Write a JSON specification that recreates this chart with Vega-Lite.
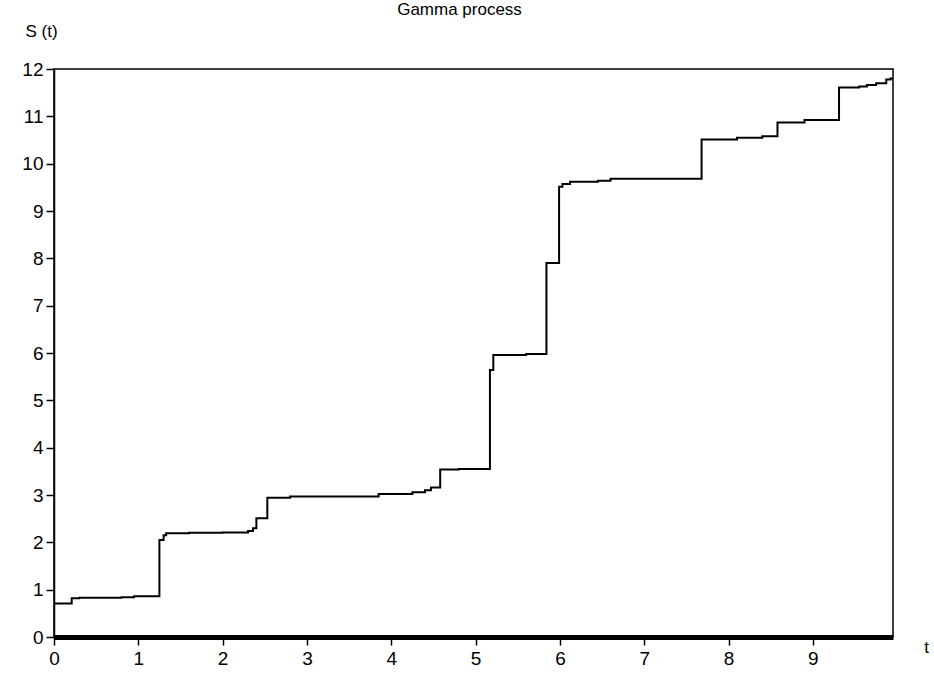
{
  "$schema": "https://vega.github.io/schema/vega-lite/v6.json",
  "autosize": {"type": "none"},
  "width": 839,
  "height": 568,
  "padding": {"left": 54, "top": 69, "right": 41, "bottom": 39},
  "background": "white",
  "title": {
    "text": "Gamma process",
    "anchor": "middle",
    "font": "Liberation Sans",
    "fontSize": 17,
    "fontWeight": "normal",
    "color": "black",
    "offset": 3,
    "dx": -14
  },
  "config": {
    "view": {"stroke": "black", "strokeWidth": 1.5},
    "axis": {
      "labelFont": "Liberation Sans",
      "labelFontSize": 19,
      "labelColor": "black",
      "domainColor": "black",
      "tickColor": "black",
      "grid": false,
      "titleFont": "Liberation Sans",
      "titleFontSize": 17,
      "titleFontWeight": "normal",
      "titleColor": "black"
    }
  },
  "data": {
    "values": [
      {"t": 0, "s": 0.71},
      {"t": 0.21, "s": 0.82},
      {"t": 0.3, "s": 0.83},
      {"t": 0.8, "s": 0.84},
      {"t": 0.95, "s": 0.86},
      {"t": 1.25, "s": 2.05},
      {"t": 1.3, "s": 2.15},
      {"t": 1.33, "s": 2.19},
      {"t": 1.6, "s": 2.2},
      {"t": 2.0, "s": 2.21},
      {"t": 2.3, "s": 2.24},
      {"t": 2.36, "s": 2.3},
      {"t": 2.4, "s": 2.51},
      {"t": 2.53, "s": 2.94},
      {"t": 2.8, "s": 2.97},
      {"t": 3.3, "s": 2.97},
      {"t": 3.85, "s": 3.02},
      {"t": 4.25, "s": 3.06},
      {"t": 4.4, "s": 3.1},
      {"t": 4.47, "s": 3.16},
      {"t": 4.58, "s": 3.54},
      {"t": 4.8, "s": 3.55},
      {"t": 5.17, "s": 5.64},
      {"t": 5.21, "s": 5.96},
      {"t": 5.6, "s": 5.98},
      {"t": 5.84, "s": 7.9},
      {"t": 5.99, "s": 9.51},
      {"t": 6.03, "s": 9.57},
      {"t": 6.12, "s": 9.62},
      {"t": 6.45, "s": 9.64},
      {"t": 6.6, "s": 9.68},
      {"t": 7.68, "s": 10.51},
      {"t": 8.1, "s": 10.55},
      {"t": 8.4, "s": 10.58},
      {"t": 8.58, "s": 10.87},
      {"t": 8.9, "s": 10.92},
      {"t": 9.31, "s": 11.61},
      {"t": 9.55, "s": 11.63},
      {"t": 9.64, "s": 11.66},
      {"t": 9.75, "s": 11.7},
      {"t": 9.87, "s": 11.78},
      {"t": 9.92, "s": 11.8},
      {"t": 9.95, "s": 11.8}
    ]
  },
  "mark": {"type": "line", "interpolate": "step-after", "color": "black", "strokeWidth": 2, "clip": true},
  "encoding": {
    "x": {
      "field": "t",
      "type": "quantitative",
      "scale": {"domain": [0, 9.95], "nice": false, "zero": false},
      "axis": {
        "values": [0, 1, 2, 3, 4, 5, 6, 7, 8, 9],
        "title": "t",
        "titleAngle": 0,
        "titleX": 872,
        "titleY": 10,
        "titleBaseline": "middle",
        "titleAlign": "center",
        "domainWidth": 5,
        "tickSize": 8,
        "tickWidth": 1.5,
        "labelPadding": 4,
        "labelFlush": false
      }
    },
    "y": {
      "field": "s",
      "type": "quantitative",
      "scale": {"domain": [0, 12], "nice": false},
      "axis": {
        "values": [0, 1, 2, 3, 4, 5, 6, 7, 8, 9, 10, 11, 12],
        "title": "S (t)",
        "titleAngle": 0,
        "titleX": -13,
        "titleY": -38,
        "titleAlign": "center",
        "titleBaseline": "middle",
        "domainWidth": 1.5,
        "tickSize": 8,
        "tickWidth": 1.5,
        "labelPadding": 3
      }
    }
  }
}
